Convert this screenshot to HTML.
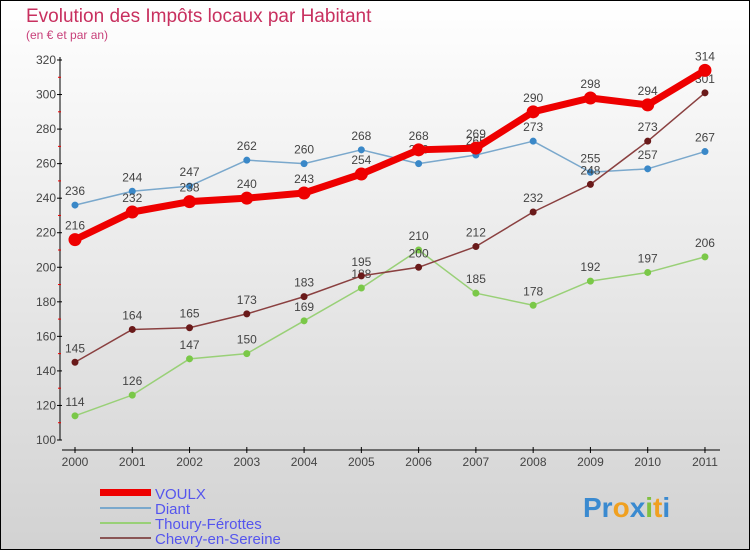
<!DOCTYPE html>
<html><head><meta charset="utf-8"><style>
body{margin:0;width:750px;height:550px;overflow:hidden}
svg{display:block}
text{font-family:"Liberation Sans","DejaVu Sans",sans-serif}
</style></head><body>
<svg id="chart" width="750" height="550">
<defs><linearGradient id="bg" x1="0" y1="0" x2="0" y2="1"><stop offset="0" stop-color="#ffffff"/><stop offset="1" stop-color="#d2d2d2"/></linearGradient></defs>
<rect x="0.5" y="0.5" width="749" height="549" fill="url(#bg)" stroke="#000"/>
<text x="26" y="22" font-size="19" fill="#c8305f">Evolution des Impôts locaux par Habitant</text>
<text x="26" y="39" font-size="12" fill="#c8407a">(en € et par an)</text>
<g id="axes"></g><g id="series"></g>
<g>
<rect x="100" y="489" width="51" height="7" fill="#e00"/>
<line x1="100" y1="508" x2="151" y2="508" stroke="#7aa8cc" stroke-width="2"/>
<line x1="100" y1="523" x2="151" y2="523" stroke="#99d077" stroke-width="2"/>
<line x1="100" y1="538" x2="151" y2="538" stroke="#8a5555" stroke-width="2"/>
<text x="155" y="499" font-size="15" fill="#5555ee">VOULX</text>
<text x="155" y="514" font-size="15" fill="#5555ee">Diant</text>
<text x="155" y="529" font-size="15" fill="#5555ee">Thoury-Férottes</text>
<text x="155" y="544" font-size="15" fill="#5555ee">Chevry-en-Sereine</text>
</g>
<g font-size="28" font-weight="bold">
<text x="583" y="517"><tspan fill="#3a8ad0">Pr</tspan><tspan fill="#f0a020">o</tspan><tspan fill="#3a8ad0">x</tspan><tspan fill="#80c040">i</tspan><tspan fill="#f0a020">t</tspan><tspan fill="#3a8ad0">i</tspan></text>
</g>
</svg>
<script>
const years=["2000","2001","2002","2003","2004","2005","2006","2007","2008","2009","2010","2011"];
const voulx=[216,232,238,240,243,254,268,269,290,298,294,314];
const diant=[236,244,247,262,260,268,260,265,273,255,257,267];
const thoury=[114,126,147,150,169,188,210,185,178,192,197,206];
const chevry=[145,164,165,173,183,195,200,212,232,248,273,301];
const yTicks=[100,120,140,160,180,200,220,240,260,280,300,320];
const NS="http://www.w3.org/2000/svg";
function X(i){return 75+i*57.27;}
function Y(v){return 440-(v-100)*1.7273;}
function mk(tag,attrs,parent){const e=document.createElementNS(NS,tag);for(const k in attrs)e.setAttribute(k,attrs[k]);parent.appendChild(e);return e;}
const ax=document.getElementById('axes'), se=document.getElementById('series');
let yl=mk('line',{x1:60,y1:57,x2:60,y2:440,stroke:'#000'},ax);


let xl=mk('line',{x1:62,y1:450,x2:720,y2:450,stroke:'#000'},ax);


yTicks.forEach((t,i)=>{const y=Y(t);
 mk('line',{x1:57,y1:y,x2:62,y2:y,stroke:'#000'},ax);
 if(i<yTicks.length-1)mk('line',{x1:58,y1:Y(t+10),x2:61,y2:Y(t+10),stroke:'#e00'},ax);
 const tx=mk('text',{x:56,y:y+4,'font-size':12,fill:'#444','text-anchor':'end'},ax);tx.textContent=t;
 
 
});
years.forEach((yr,i)=>{const x=X(i);
 mk('line',{x1:x,y1:447,x2:x,y2:453,stroke:'#000'},ax);
 const tx=mk('text',{x:x,y:466,'font-size':12,fill:'#444','text-anchor':'middle'},ax);tx.textContent=yr;
 
 
});
function series(vals,name,color,w,r,dot){
 const g=mk('g',{},se);
 
 
 mk('polyline',{points:vals.map((v,i)=>X(i)+','+Y(v)).join(' '),fill:'none',stroke:color,'stroke-width':w,'stroke-linejoin':'round'},g);
 vals.forEach((v,i)=>{const c=mk('circle',{cx:X(i),cy:Y(v),r:r,fill:dot,stroke:dot},g);
  
  
  const t=mk('text',{x:X(i),y:Y(v)-10,'font-size':12,fill:'#444','text-anchor':'middle'},g);t.textContent=v;
  
  
 });
}
series(diant,'diant','#7aa8cc',1.5,3,'#3a88c8');
series(thoury,'thoury','#99d077',1.5,3,'#7ac848');
series(chevry,'chevry','#8a4040',1.5,3,'#6a1a1a');
series(voulx,'voulx','#ee0000',7,6,'#ee0000');
</script>
</body></html>
